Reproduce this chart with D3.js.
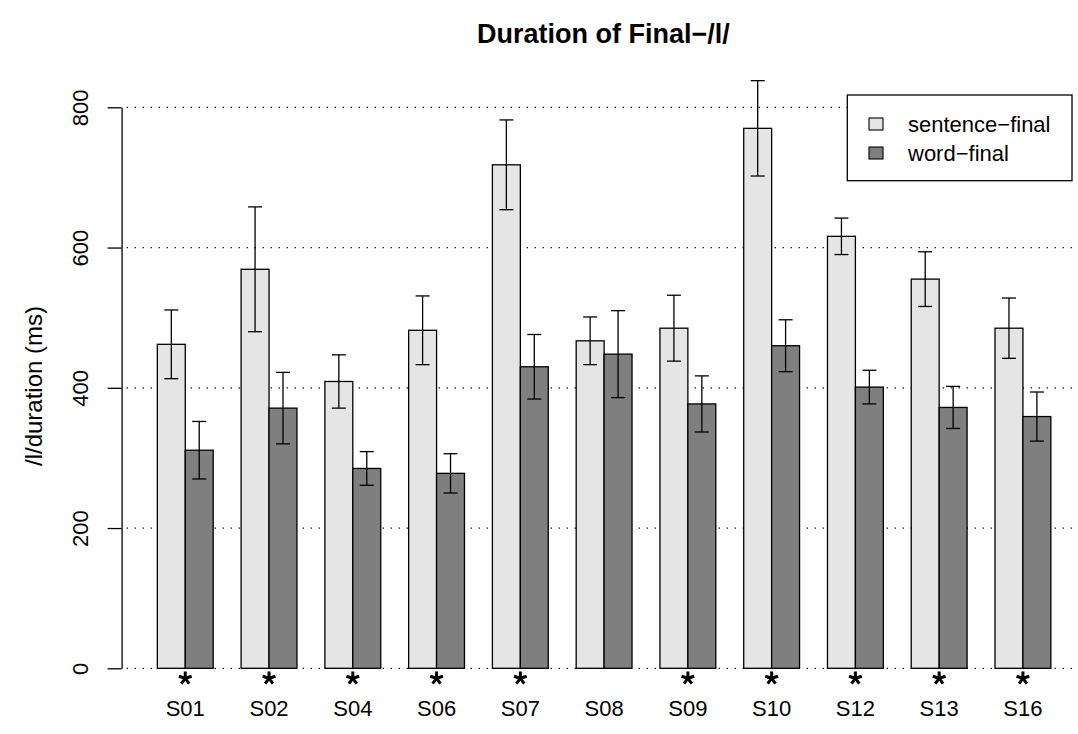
<!DOCTYPE html>
<html>
<head>
<meta charset="utf-8">
<script src="https://cdn.jsdelivr.net/npm/d3@7"></script>
<style>
  html, body { margin: 0; padding: 0; background: #ffffff; }
  svg text { font-family: "Liberation Sans", Arial, Helvetica, sans-serif; fill: #000; }
</style>
</head>
<body>
<svg id="chart" width="1078" height="734"></svg>
<script>
// Speakers
const subjects = ["S01", "S02", "S04", "S06", "S07", "S08", "S09", "S10", "S12", "S13", "S16"];
// Mean duration of final /l/ (ms) and error-bar half widths
const sentenceFinal    = [462, 569, 409, 482, 718, 467, 485, 770, 616, 555, 485];
const sentenceFinalErr = [49, 89, 38, 49, 64, 34, 47, 68, 26, 39, 43];
const wordFinal        = [311, 371, 285, 278, 430, 448, 377, 460, 401, 372, 359];
const wordFinalErr     = [41, 51, 24, 28, 46, 62, 40, 37, 24, 30, 35];
// Speakers with a significant sentence-final vs word-final difference
const significant = [true, true, true, true, true, false, true, true, true, true, true];
const seriesNames = ["sentence\u2212final", "word\u2212final"];
const seriesColors = ["#e5e5e5", "#7f7f7f"];
const yTicks = [0, 200, 400, 600, 800];

const svg = d3.select("#chart");

const plotLeft = 121.6, plotRight = 1086.6, gridRight = 1072;
const x = d3.scaleBand()
  .domain(subjects)
  .range([plotLeft, plotRight])
  .paddingInner(1 / 3)
  .paddingOuter(0.4267);

const xSeries = d3.scaleBand()
  .domain([0, 1])
  .range([0, x.bandwidth()])
  .padding(0);

const y = d3.scaleLinear().domain([0, 800]).range([668.3, 107.3]);

// dotted horizontal reference lines
svg.append("g")
  .selectAll("line")
  .data(yTicks)
  .join("line")
  .attr("x1", plotLeft + 5)
  .attr("x2", gridRight)
  .attr("y1", d => y(d))
  .attr("y2", d => y(d))
  .attr("stroke", "#000")
  .attr("stroke-width", 1.3)
  .attr("stroke-dasharray", "1.3,6.7");

const rows = subjects.map((s, i) => ({
  subject: s,
  values: [
    { k: 0, v: sentenceFinal[i], e: sentenceFinalErr[i] },
    { k: 1, v: wordFinal[i], e: wordFinalErr[i] }
  ],
  sig: significant[i]
}));

const groups = svg.append("g")
  .selectAll("g")
  .data(rows)
  .join("g")
  .attr("transform", d => `translate(${x(d.subject)},0)`);

// bars
groups.selectAll("rect")
  .data(d => d.values)
  .join("rect")
  .attr("x", d => xSeries(d.k))
  .attr("y", d => y(d.v))
  .attr("width", xSeries.bandwidth())
  .attr("height", d => y(0) - y(d.v))
  .attr("fill", d => seriesColors[d.k])
  .attr("stroke", "#000")
  .attr("stroke-width", 1.3);

// error bars
const capHalf = 7;
const eb = groups.selectAll("g.err")
  .data(d => d.values)
  .join("g")
  .attr("class", "err")
  .attr("transform", d => `translate(${xSeries(d.k) + xSeries.bandwidth() / 2},0)`);
eb.append("line")
  .attr("x1", 0).attr("x2", 0)
  .attr("y1", d => y(d.v + d.e)).attr("y2", d => y(d.v - d.e))
  .attr("stroke", "#000").attr("stroke-width", 1.3);
eb.append("line")
  .attr("x1", -capHalf).attr("x2", capHalf)
  .attr("y1", d => y(d.v + d.e)).attr("y2", d => y(d.v + d.e))
  .attr("stroke", "#000").attr("stroke-width", 1.3);
eb.append("line")
  .attr("x1", -capHalf).attr("x2", capHalf)
  .attr("y1", d => y(d.v - d.e)).attr("y2", d => y(d.v - d.e))
  .attr("stroke", "#000").attr("stroke-width", 1.3);

// significance markers: five-armed asterisk symbol
const asteriskFive = {
  draw(context, size) {
    const r = Math.sqrt(size) / 2;
    for (let k = 0; k < 5; k++) {
      const a = (-90 + k * 72) * Math.PI / 180;
      context.moveTo(0, 0);
      context.lineTo(r * Math.cos(a), r * Math.sin(a));
    }
  }
};
groups.filter(d => d.sig)
  .append("path")
  .attr("transform", `translate(${x.bandwidth() / 2},${y(0) + 10})`)
  .attr("d", d3.symbol().type(asteriskFive).size(180)())
  .attr("fill", "none")
  .attr("stroke", "#000")
  .attr("stroke-width", 3);

// subject labels
groups.append("text")
  .attr("x", x.bandwidth() / 2)
  .attr("y", 716)
  .attr("text-anchor", "middle")
  .style("font-size", "22px")
  .text(d => d.subject);

// y axis
const yAxis = d3.axisLeft(y).tickValues(yTicks).tickSize(14).tickSizeOuter(0).tickPadding(20);
const ya = svg.append("g")
  .attr("transform", `translate(${plotLeft},0)`)
  .call(yAxis);
ya.select(".domain").attr("stroke", "#000").attr("stroke-width", 1.3);
ya.selectAll(".tick line").attr("stroke", "#000").attr("stroke-width", 1.3);
ya.selectAll(".tick text")
  .attr("x", null).attr("dy", null)
  .attr("transform", "translate(-33.6,0) rotate(-90)")
  .attr("text-anchor", "middle")
  .attr("fill", "#000")
  .style("font-size", "22px")
  .style("font-family", "'Liberation Sans', Arial, sans-serif");

// y axis title
svg.append("text")
  .attr("transform", "translate(42,386) rotate(-90)")
  .attr("text-anchor", "middle")
  .style("font-size", "24px")
  .text("/l/duration (ms)");

// chart title
svg.append("text")
  .attr("x", 603.5)
  .attr("y", 42.5)
  .attr("text-anchor", "middle")
  .style("font-size", "27px")
  .style("font-weight", "bold")
  .text("Duration of Final\u2212/l/");

// legend
const legend = svg.append("g");
legend.append("rect")
  .attr("x", 847.3).attr("y", 95)
  .attr("width", gridRight - 847.3).attr("height", 85.7)
  .attr("fill", "#fff")
  .attr("stroke", "#000")
  .attr("stroke-width", 1.3);
const items = legend.selectAll("g.item")
  .data(seriesNames)
  .join("g")
  .attr("class", "item")
  .attr("transform", (d, i) => `translate(869,${124 + i * 29})`);
items.append("rect")
  .attr("x", 0).attr("y", -6)
  .attr("width", 14).attr("height", 12)
  .attr("fill", (d, i) => seriesColors[i])
  .attr("stroke", "#000")
  .attr("stroke-width", 1.1);
items.append("text")
  .attr("x", 39)
  .attr("y", 8)
  .style("font-size", "22px")
  .text(d => d);
</script>
</body>
</html>
